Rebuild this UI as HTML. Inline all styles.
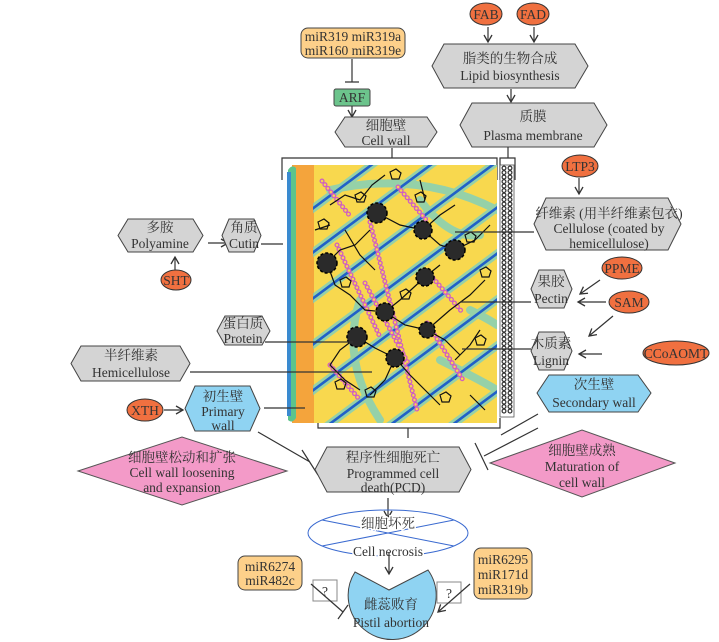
<!DOCTYPE html>
<html><head><meta charset="utf-8"><style>
html,body{margin:0;padding:0;background:#fff;}
svg{display:block;}
text{font-family:"Liberation Serif","Noto Serif CJK SC","Noto Sans CJK SC",serif;fill:#333;font-size:13.5px;text-anchor:middle;}
.hx{fill:#d4d4d4;stroke:#444;stroke-width:1;}
.bl{fill:#8fd3f2;stroke:#444;stroke-width:1;}
.pk{fill:#f39ac8;stroke:#555;stroke-width:1;}
.or{fill:#f07040;stroke:#333;stroke-width:1;}
.mi{fill:#fdd08a;stroke:#444;stroke-width:1;}
.ln{stroke:#333;stroke-width:1.2;fill:none;}
</style></head><body>
<svg width="719" height="642" viewBox="0 0 719 642" xmlns="http://www.w3.org/2000/svg">
<defs>
<marker id="ar" markerWidth="10" markerHeight="10" refX="8" refY="5" orient="auto" markerUnits="userSpaceOnUse">
<path d="M1,1 L8,5 L1,9" fill="none" stroke="#333" stroke-width="1.3"/></marker>
<clipPath id="cp"><rect x="313" y="165" width="184" height="258"/></clipPath>
</defs>

<rect class="mi" x="301" y="28" width="104" height="30" rx="7"/>
<text x="353" y="41" font-size="12.5">miR319  miR319a</text>
<text x="353" y="55" font-size="12.5">miR160  miR319e</text>
<path class="ln" d="M352,59 V82 M345,82 H359"/>
<rect x="334" y="89" width="36" height="17" rx="2" fill="#6cc48c" stroke="#444"/>
<text x="352" y="102">ARF</text>
<path class="ln" d="M352,106 V117" marker-end="url(#ar)"/>
<polygon class="hx" points="335,132 345,117 427,117 437,132 427,147 345,147"/>
<text x="386" y="130">细胞壁</text><text x="386" y="145">Cell wall</text>

<ellipse class="or" cx="486" cy="14" rx="16" ry="11"/><text x="486" y="19">FAB</text>
<ellipse class="or" cx="533" cy="14" rx="16" ry="11"/><text x="533" y="19">FAD</text>
<path class="ln" d="M488,27 V42" marker-end="url(#ar)"/>
<path class="ln" d="M534,27 V42" marker-end="url(#ar)"/>
<polygon class="hx" points="432,66 444,44 575,44 588,66 575,88 444,88"/>
<text x="510" y="63">脂类的生物合成</text><text x="510" y="80">Lipid biosynthesis</text>
<path class="ln" d="M511,89 V102" marker-end="url(#ar)"/>
<polygon class="hx" points="460,125 472,103 594,103 607,125 594,147 472,147"/>
<text x="533" y="121">质膜</text><text x="533" y="140">Plasma membrane</text>

<path class="ln" d="M282,180 V158 H497 V180 M392,158 V148"/>
<path class="ln" d="M500,180 V158 H515 V180 M508,158 V147"/>
<path class="ln" d="M318,418 V428 H500 V418 M408,428 V438"/>

<rect x="313" y="165" width="184" height="258" fill="#f8d84e"/>
<rect x="292" y="165" width="22" height="258" fill="#f4a43c"/>
<path d="M288,170 Q292,164 296,168 V418 Q292,424 288,420 Z" fill="#5cc48c"/>
<rect x="287" y="172" width="4" height="244" fill="#3a8ad0"/>
<g clip-path="url(#cp)">
<g stroke="#6ccfcf" stroke-width="8" opacity="0.7" fill="none" stroke-linecap="round">
<path d="M300,218 L510,62 M300,262 L510,106 M300,308 L510,152 M300,354 L510,198 M300,400 L510,244 M300,446 L510,290 M300,492 L510,336 M300,538 L510,382"/>
<path d="M330,190 Q420,170 497,210 M360,300 Q340,360 380,420 M420,200 Q450,240 480,235 M440,360 Q480,380 497,390 M470,310 Q490,320 497,325"/>
</g>
<g stroke="#2060c8" stroke-width="2.6" fill="none">
<path d="M300,218 L510,62 M300,262 L510,106 M300,308 L510,152 M300,354 L510,198 M300,400 L510,244 M300,446 L510,290 M300,492 L510,336 M300,538 L510,382"/>
</g>
<g fill="none" stroke-linecap="round" stroke-dasharray="0.1 4.6">
<g stroke="#d060c0" stroke-width="5">
<path d="M322,181 L350,216 M398,187 L428,222 M370,222 L417,410 M337,245 L380,337 M365,283 L408,363 M433,278 L463,313 M330,365 L360,400 M427,323 L463,380"/>
</g>
<g stroke="#f8d84e" stroke-width="2.4">
<path d="M322,181 L350,216 M398,187 L428,222 M370,222 L417,410 M337,245 L380,337 M365,283 L408,363 M433,278 L463,313 M330,365 L360,400 M427,323 L463,380"/>
</g>
</g>
<g stroke="#111" stroke-width="1.2" fill="none">
<path d="M330,205 L345,195 L360,200 L372,185 L385,175 M377,213 L400,225 L423,230 L440,215 L455,205 M423,230 L440,245 L455,250 L475,240 L490,225 M327,263 L340,250 L355,245 L370,230 M327,263 L335,285 L350,295 L365,310 L385,312 L400,300 L425,277 L440,265 M385,312 L405,325 L427,330 L445,340 L460,355 M357,337 L340,350 L330,365 L345,380 L360,390 M357,337 L375,348 L395,358 L410,375 L425,390 L440,405 M395,358 L385,380 L370,395 M427,330 L450,310 L470,295 L485,280 M455,360 L470,345 L480,330 M345,230 L360,255 L375,270 M420,180 L425,200 M315,230 L330,225 M470,395 L485,410"/>
<path d="M355,195 l6,-3 l5,4 l-2,6 l-7,0 z M390,172 l6,-3 l5,4 l-2,6 l-7,0 z M465,235 l6,-3 l5,4 l-2,6 l-7,0 z M340,280 l6,-3 l5,4 l-2,6 l-7,0 z M335,382 l6,-3 l5,4 l-2,6 l-7,0 z M475,338 l6,-3 l5,4 l-2,6 l-7,0 z M440,395 l6,-3 l5,4 l-2,6 l-7,0 z M365,390 l6,-3 l5,4 l-2,6 l-7,0 z M480,270 l6,-3 l5,4 l-2,6 l-7,0 z M318,222 l6,-3 l5,4 l-2,6 l-7,0 z M415,195 l6,-3 l5,4 l-2,6 l-7,0 z M400,292 l6,-3 l5,4 l-2,6 l-7,0 z"/>
</g>
<g fill="#2a2a2a" stroke="#000" stroke-width="1.5" stroke-dasharray="3 2">
<circle cx="377" cy="213" r="10"/><circle cx="423" cy="230" r="9"/><circle cx="455" cy="250" r="10"/>
<circle cx="327" cy="263" r="10"/><circle cx="425" cy="277" r="9"/><circle cx="385" cy="312" r="9"/>
<circle cx="427" cy="330" r="8"/><circle cx="357" cy="337" r="10"/><circle cx="395" cy="358" r="9"/>
</g>
</g>
<rect x="500" y="165" width="14" height="252" fill="#fff" stroke="#555" stroke-width="0.8"/>
<g fill="none" stroke-linecap="round" stroke-dasharray="0.1 4.4">
<path d="M504,168 V414 M510,168 V414" stroke="#333" stroke-width="5"/>
<path d="M504,168 V414 M510,168 V414" stroke="#fff" stroke-width="2.5"/>
</g>

<ellipse class="or" cx="580" cy="166" rx="18" ry="11"/><text x="580" y="171">LTP3</text>
<path class="ln" d="M579,178 V194" marker-end="url(#ar)"/>
<polygon class="hx" points="534,224 546,198 668,198 681,224 668,250 546,250"/>
<text x="609" y="218" font-size="13">纤维素 (用半纤维素包衣)</text><text x="609" y="233" font-size="13">Cellulose (coated by</text><text x="609" y="248" font-size="13">hemicellulose)</text>
<path class="ln" d="M455,232 H534"/>
<ellipse class="or" cx="622" cy="268" rx="20" ry="11"/><text x="622" y="273">PPME</text>
<ellipse class="or" cx="629" cy="302" rx="20" ry="11"/><text x="629" y="307">SAM</text>
<ellipse class="or" cx="676" cy="353" rx="33" ry="12"/><text x="676" y="358">CCoAOMT</text>
<polygon class="hx" points="531,289 539,270 564,270 572,289 564,308 539,308"/>
<text x="551" y="286">果胶</text><text x="551" y="303">Pectin</text>
<path class="ln" d="M460,302 H531"/>
<path class="ln" d="M600,280 L580,294" marker-end="url(#ar)"/>
<path class="ln" d="M606,302 L578,302" marker-end="url(#ar)"/>
<path class="ln" d="M613,316 L589,336" marker-end="url(#ar)"/>
<polygon class="hx" points="531,351 539,332 564,332 572,351 564,370 539,370"/>
<text x="551" y="348">木质素</text><text x="551" y="365">Lignin</text>
<path class="ln" d="M462,349 H531"/>
<path class="ln" d="M602,354 L579,354" marker-end="url(#ar)"/>
<polygon class="bl" points="537,393 549,375 638,375 651,393 638,412 549,412"/>
<text x="594" y="389">次生壁</text><text x="594" y="407">Secondary wall</text>
<path class="ln" d="M501,435 L538,414 M538,428 L484,456 M475,443 L488,470"/>
<polygon class="pk" points="490,463 582,430 675,463 582,497"/>
<text x="582" y="455">细胞壁成熟</text><text x="582" y="471">Maturation of</text><text x="582" y="487">cell wall</text>

<polygon class="hx" points="118,235.5 128,219 193,219 203,235.5 193,252 128,252"/>
<text x="160" y="232">多胺</text><text x="160" y="248">Polyamine</text>
<path class="ln" d="M208,243 H228" marker-end="url(#ar)"/>
<polygon class="hx" points="222,235.5 229,219 254,219 261,235.5 254,252 229,252"/>
<text x="244" y="232">角质</text><text x="244" y="248">Cutin</text>
<path class="ln" d="M261,244 H283"/>
<ellipse class="or" cx="176" cy="280" rx="15" ry="10"/><text x="176" y="285">SHT</text>
<path class="ln" d="M175,270 V257" marker-end="url(#ar)"/>
<polygon class="hx" points="217,331 225,316 262,316 270,331 262,345 225,345"/>
<text x="243" y="328">蛋白质</text><text x="243" y="343">Protein</text>
<path class="ln" d="M265,342 H353"/>
<polygon class="hx" points="71,363.5 81,346 180,346 190,363.5 180,381 81,381"/>
<text x="131" y="360">半纤维素</text><text x="131" y="377">Hemicellulose</text>
<path class="ln" d="M190,372 H372"/>
<ellipse class="or" cx="145" cy="410" rx="18" ry="11"/><text x="145" y="415">XTH</text>
<path class="ln" d="M164,410 H183" marker-end="url(#ar)"/>
<polygon class="bl" points="185,408.5 195,386 250,386 260,408.5 250,431 195,431"/>
<text x="223" y="401">初生壁</text><text x="223" y="416">Primary</text><text x="223" y="430">wall</text>
<path class="ln" d="M264,408 H305"/>
<path class="ln" d="M258,432 L310,462 M302,450 L318,475"/>
<polygon class="pk" points="78,471 182,437 287,471 182,505"/>
<text x="182" y="462">细胞壁松动和扩张</text><text x="182" y="477">Cell wall loosening</text><text x="182" y="492">and expansion</text>

<polygon class="hx" points="315,469.5 327,447 459,447 471,469.5 459,492 327,492"/>
<text x="393" y="462">程序性细胞死亡</text><text x="393" y="478">Programmed cell</text><text x="393" y="492">death(PCD)</text>
<path class="ln" d="M388,498 V518" marker-end="url(#ar)"/>
<ellipse cx="388" cy="533" rx="80" ry="23" fill="none" stroke="#3a6ad0" stroke-width="1"/>
<path d="M322,520 L454,546 M322,546 L454,520" stroke="#3a6ad0" stroke-width="1"/>
<text x="388" y="528" style="paint-order:stroke" stroke="#fff" stroke-width="3">细胞坏死</text>
<text x="388" y="556" style="paint-order:stroke" stroke="#fff" stroke-width="3">Cell necrosis</text>
<path class="ln" d="M389,552 V574" marker-end="url(#ar)"/>
<path d="M355,572 L389,590 L428,570 A44,44 0 1 1 355,572 Z" fill="#8fd3f2" stroke="#444"/>
<text x="391" y="609">雌蕊败育</text><text x="391" y="627">Pistil abortion</text>
<rect class="mi" x="238" y="556" width="64" height="34" rx="7"/>
<text x="270" y="571">miR6274</text><text x="270" y="585">miR482c</text>
<rect class="mi" x="474" y="548" width="58" height="51" rx="7"/>
<text x="503" y="564">miR6295</text><text x="503" y="579">miR171d</text><text x="503" y="594">miR319b</text>
<rect x="313" y="580" width="24" height="21" fill="#fff" stroke="#888"/><text x="325" y="596" fill="#666">?</text>
<rect x="437" y="582" width="24" height="21" fill="#fff" stroke="#888"/><text x="449" y="598" fill="#666">?</text>
<path class="ln" d="M311,584 L343,612 M338,619 L348,605"/>
<path class="ln" d="M470,584 L438,612" marker-end="url(#ar)"/>
</svg>
</body></html>
